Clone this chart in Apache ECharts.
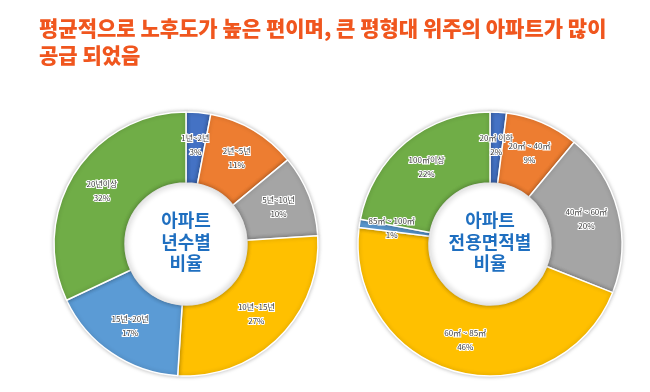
<!DOCTYPE html>
<html><head><meta charset="utf-8">
<script src="https://cdn.jsdelivr.net/npm/echarts@6/dist/echarts.min.js"></script>
<style>html,body{margin:0;padding:0;background:#fff}#c{width:650px;height:392px}</style>
</head><body><div id="c"></div>
<script>
const ageCats = ['1년~2년','2년~5년','5년~10년','10년~15년','15년~20년','20년이상'];
const ageVals = [3, 11, 10, 27, 17, 32];
const areaCats = ['20㎡ 이하','20㎡ ~ 40㎡','40㎡ ~ 60㎡','60㎡ ~ 85㎡','85㎡ ~ 100㎡','100㎡이상'];
const areaVals = [2, 9, 20, 46, 1, 22];
const colors = ['#4472C4','#ED7D31','#A5A5A5','#FFC000','#5B9BD5','#70AD47'];
const font = '"Noto Sans CJK KR", sans-serif';

const chart = echarts.init(document.getElementById('c'));
function donut(cats, vals, center) {
  return {
    type: 'pie', center: center, radius: [61, 132], startAngle: 90, clockwise: true,
    avoidLabelOverlap: false, silent: true, minShowLabelAngle: 0,
    labelLayout: {hideOverlap: false},
    itemStyle: {borderColor: '#fff', borderWidth: 1.5, shadowBlur: 4, shadowColor: 'rgba(0,0,0,0.25)'},
    label: {position: 'inside', formatter: '{b}\n{c}%', fontSize: 8, lineHeight: 14,
      color: '#404040', textBorderColor: '#fff', textBorderWidth: 2, fontFamily: font},
    labelLine: {show: false},
    data: cats.map((c, i) => ({name: c, value: vals[i], itemStyle: {color: colors[i]}}))
  };
}
function hole(center) {
  return {type: 'pie', center: center, radius: [0, 60], silent: true, z: 5,
    label: {show: false}, labelLine: {show: false},
    itemStyle: {color: '#fff', borderColor: '#e8e8e8', borderWidth: 2, shadowBlur: 5, shadowColor: 'rgba(0,0,0,0.25)'},
    data: [{value: 1}]};
}
chart.setOption({
  animation: false,
  graphic: [
    {type: 'text', left: 39, top: 15, style: {text: '평균적으로 노후도가 높은 편이며, 큰 평형대 위주의 아파트가 많이\n공급 되었음',
      font: '900 21px ' + font, fill: '#F0561E', lineHeight: 27}},
    {type: 'text', z: 100, x: 186, y: 242, style: {text: '아파트\n년수별\n비율', font: 'bold 18px ' + font,
      fill: '#1F6FC0', align: 'center', verticalAlign: 'middle', lineHeight: 21.5}},
    {type: 'text', z: 100, x: 490, y: 242, style: {text: '아파트\n전용면적별\n비율', font: 'bold 18px ' + font,
      fill: '#1F6FC0', align: 'center', verticalAlign: 'middle', lineHeight: 21.5}}
  ],
  series: [
    donut(ageCats, ageVals, [186, 244]),
    donut(areaCats, areaVals, [490, 244]),
    hole([186, 244]), hole([490, 244])
  ]
});
</script></body></html>
